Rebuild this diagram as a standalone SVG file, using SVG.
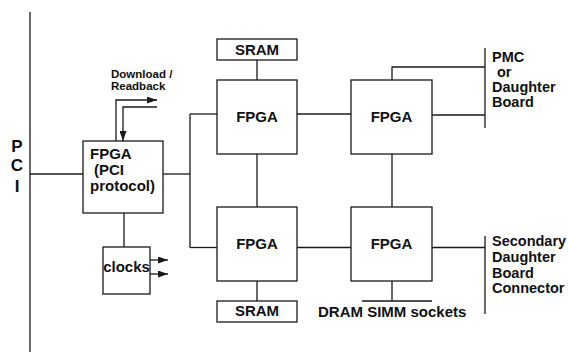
<svg xmlns="http://www.w3.org/2000/svg" width="568" height="352" viewBox="0 0 568 352">
<style>
.ln{fill:none;stroke:#1a1a1a;stroke-width:1.3}
.bx{fill:#fff;stroke:#1a1a1a;stroke-width:1.3}
.t{font-family:"Liberation Sans",Arial,sans-serif;font-weight:bold;font-size:15px;fill:#111}
.m{text-anchor:middle}
.s{font-size:14.5px}
.xs{font-size:11.5px}
.big{font-size:17px}
</style>
<defs>
<marker id="ah" markerUnits="userSpaceOnUse" markerWidth="11" markerHeight="7" refX="10" refY="3.5" orient="auto">
<path d="M0,0 L10,3.5 L0,7 z" fill="#1a1a1a"/>
</marker>
</defs>
<rect width="568" height="352" fill="#fff"/>
<g id="connectors">
<path class="ln" d="M30,12 V352"/>
<path class="ln" d="M30,174 H83"/>
<path class="ln" d="M163,174 H190"/>
<path class="ln" d="M190,114 V247.5"/>
<path class="ln" d="M190,114 H217"/>
<path class="ln" d="M190,247.5 H217"/>
<path class="ln" d="M257,60 V80"/>
<path class="ln" d="M297,114 H351"/>
<path class="ln" d="M257,154 V207"/>
<path class="ln" d="M392,154 V207"/>
<path class="ln" d="M297,247.5 H351"/>
<path class="ln" d="M257,281 V301"/>
<path class="ln" d="M392,80 V67 H485"/>
<path class="ln" d="M432,115 H485"/>
<path class="ln" d="M485,48 V128"/>
<path class="ln" d="M432,247.5 H485"/>
<path class="ln" d="M485,236 V314"/>
<path class="ln" d="M392,281 V301"/>
<path class="ln" d="M362,301 H432"/>
<path class="ln" d="M124,213 V247"/>
<path class="ln" d="M150,260 H168" marker-end="url(#ah)"/>
<path class="ln" d="M150,274 H168" marker-end="url(#ah)"/>
<path class="ln" d="M116,141 V100 H157" marker-end="url(#ah)"/>
<path class="ln" d="M157,107 H123 V141" marker-end="url(#ah)"/>
</g>
<g id="pci">
<text class="t big m" x="17" y="152">P</text>
<text class="t big m" x="17" y="171">C</text>
<text class="t big m" x="17" y="192">I</text>
</g>
<g id="fpga-pci">
<rect class="bx" x="83" y="141" width="80" height="72"/>
<text class="t" x="90" y="159">FPGA</text>
<text class="t" x="94" y="175">(PCI</text>
<text class="t" x="90" y="191">protocol)</text>
</g>
<g id="download-label">
<text class="t xs" x="111" y="78">Download /</text>
<text class="t xs" x="111" y="90">Readback</text>
</g>
<g id="clocks">
<rect class="bx" x="103" y="247" width="47" height="47"/>
<text class="t m" x="126.5" y="272">clocks</text>
</g>
<g id="sram-top">
<rect class="bx" x="217" y="39" width="80" height="21"/>
<text class="t m" x="257" y="55">SRAM</text>
</g>
<g id="fpga-tl">
<rect class="bx" x="217" y="80" width="80" height="74"/>
<text class="t m" x="257" y="122">FPGA</text>
</g>
<g id="fpga-tr">
<rect class="bx" x="351" y="80" width="81" height="74"/>
<text class="t m" x="391.5" y="122">FPGA</text>
</g>
<g id="fpga-bl">
<rect class="bx" x="217" y="207" width="80" height="74"/>
<text class="t m" x="257" y="249">FPGA</text>
</g>
<g id="fpga-br">
<rect class="bx" x="351" y="207" width="81" height="74"/>
<text class="t m" x="391.5" y="249">FPGA</text>
</g>
<g id="sram-bottom">
<rect class="bx" x="217" y="301" width="80" height="21"/>
<text class="t m" x="257" y="316">SRAM</text>
</g>
<g id="dram">
<text class="t" x="318" y="317">DRAM SIMM sockets</text>
</g>
<g id="pmc">
<text class="t s" x="492" y="62">PMC</text>
<text class="t s" x="497" y="77">or</text>
<text class="t s" x="492" y="92">Daughter</text>
<text class="t s" x="492" y="107">Board</text>
</g>
<g id="secondary">
<text class="t s" x="492" y="246">Secondary</text>
<text class="t s" x="492" y="262">Daughter</text>
<text class="t s" x="492" y="278">Board</text>
<text class="t s" x="492" y="293">Connector</text>
</g>
</svg>
